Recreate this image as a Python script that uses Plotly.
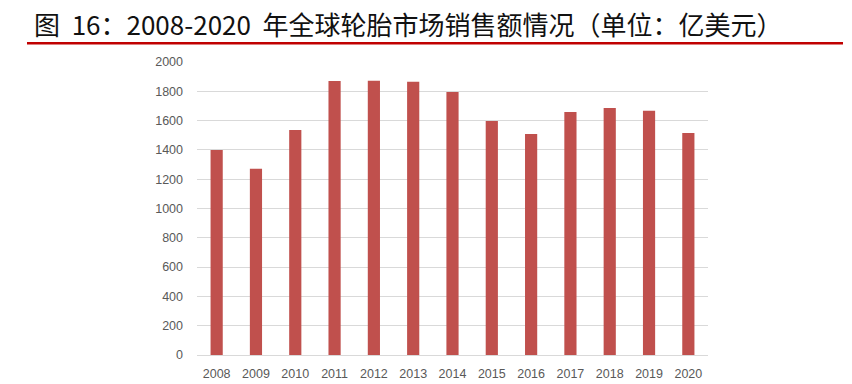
import plotly.graph_objects as go

years = ["2008", "2009", "2010", "2011", "2012", "2013", "2014", "2015", "2016", "2017", "2018", "2019", "2020"]
sales = [1400, 1272, 1536, 1870, 1872, 1866, 1795, 1597, 1508, 1659, 1686, 1668, 1515]
y_ticks = [0, 200, 400, 600, 800, 1000, 1200, 1400, 1600, 1800, 2000]
title_text = "图\u00a0\u00a016：2008-2020\u00a0\u00a0年全球轮胎市场销售额情况（单位：亿美元）"

fig = go.Figure(go.Bar(x=years, y=sales, marker=dict(color="#C0504D", line=dict(width=0)), width=0.31))

fig.update_layout(
    width=852, height=384,
    margin=dict(l=197, r=144, t=62, b=29, autoexpand=False),
    paper_bgcolor="white", plot_bgcolor="white",
    showlegend=False,
    font=dict(family="Liberation Sans, Arial, sans-serif", color="#595959", size=12.5),
)
fig.update_xaxes(type="category", showgrid=False, showline=True, linecolor="#D9D9D9", linewidth=1,
                 automargin=False, ticks="", ticklabelstandoff=7, tickfont=dict(size=12.5, color="#595959"))
fig.update_yaxes(range=[0, 2000], tickvals=y_ticks, showgrid=True, gridcolor="#D9D9D9", gridwidth=1,
                 automargin=False, zeroline=False, ticks="", ticklabelstandoff=13,
                 tickfont=dict(size=12.5, color="#595959"))

fig.add_annotation(text=title_text, xref="paper", yref="paper", x=-0.322, y=1.0,
                   xanchor="left", yanchor="middle", yshift=39, showarrow=False,
                   font=dict(family="Noto Sans CJK SC", size=26, color="#111111"))
fig.add_shape(type="line", xref="paper", yref="paper", x0=-0.3327, x1=1.2642,
              ysizemode="pixel", yanchor=1.0, y0=18.7, y1=18.7,
              line=dict(color="#C00000", width=2.5))
fig.write_html("out.html", config={"displayModeBar": False},
               post_script="document.body.style.margin='0';")
